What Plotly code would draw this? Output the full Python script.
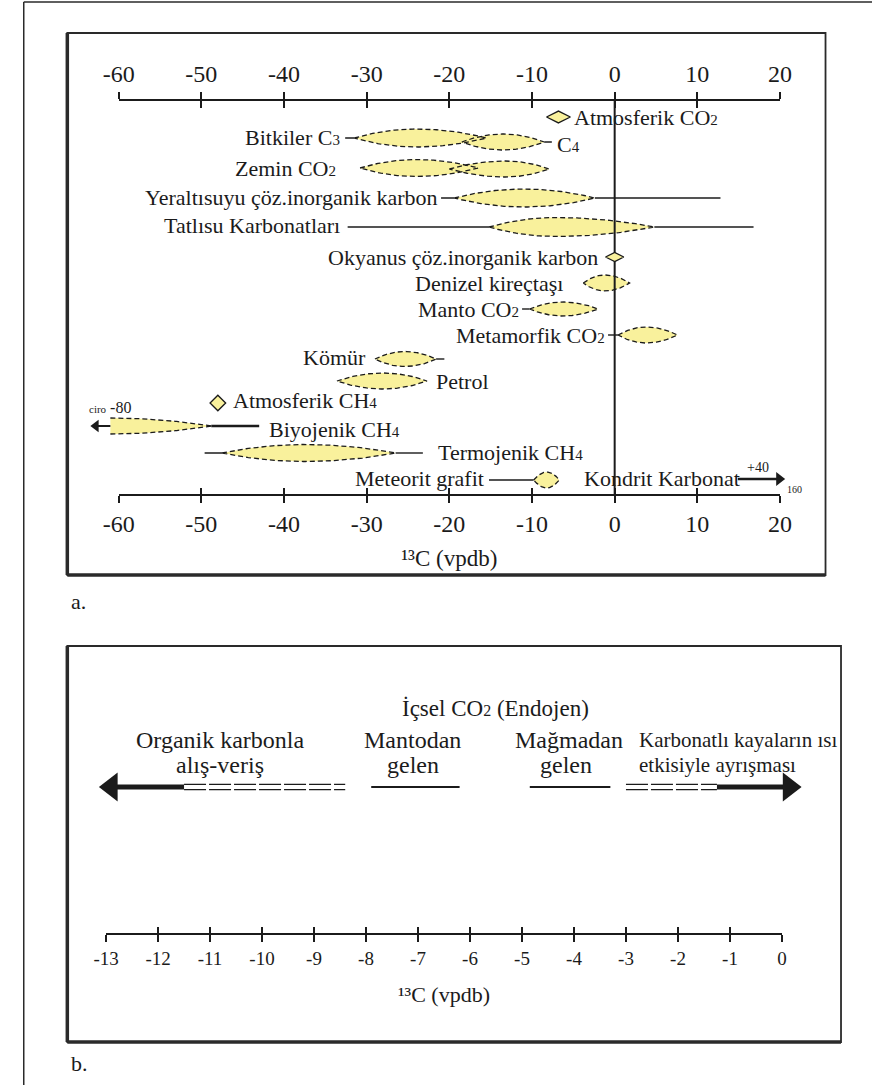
import numpy as np
import plotly.graph_objects as go

W, H = 884, 1085
SERIF = "Liberation Serif"
INK = "#1b1b1b"
YELLOW = "#F9F19C"


def sub(s, size=15):
    """Small trailing index (CO2, CH4 ...) kept on the baseline."""
    return f'<span style="font-size:{size}px">{s}</span>'


# ---------------- panel a : δ13C ranges of carbon reservoirs ----------------
a_ticks = [-60, -50, -40, -30, -20, -10, 0, 10, 20]

lens_key = ["c3", "c4", "soil_c3", "soil_c4", "groundwater", "freshwater",
            "marine", "mantle", "metamorphic", "coal", "oil", "biogenic",
            "thermogenic", "graphite"]
lens_low = [-31.5, -18.5, -30.8, -20.0, -19.4, -15.2, -3.8, -10.3, 0.4,
            -29.0, -33.6, -61.0, -47.5, -9.8]
lens_high = [-15.5, -8.5, -16.5, -7.9, -2.4, 4.8, 1.8, -2.0, 7.6,
             -21.6, -22.7, -48.8, -26.5, -6.7]
lens_mode = [-24.0, -13.5, -24.0, -13.2, -11.0, -7.2, -1.2, -6.3, 3.8,
             -25.4, -28.0, -61.0, -37.5, -8.2]

tail_key = ["c3", "c4", "groundwater", "groundwater", "freshwater", "freshwater",
            "mantle", "metamorphic", "coal", "thermogenic", "thermogenic", "graphite"]
tail_from = [-32.6, -8.5, -21.0, -2.4, -32.3, 4.8, -11.2, -0.8, -21.6, -49.6, -26.5, -15.2]
tail_to = [-31.5, -7.6, -19.4, 12.8, -15.2, 16.8, -10.3, 0.4, -20.6, -47.5, -23.2, -9.8]

biogenic_tail = [-48.8, -43.0]

point_key = ["atm_co2", "ocean", "atm_ch4"]
point_val = [-6.8, 0.0, -48.0]

arrow_key = ["biogenic", "chondrite"]
arrow_tail = [-61.0, 14.9]
arrow_tip = [-63.4, 20.6]

a_label_text = ["Atmosferik CO" + sub(2), "Bitkiler C" + sub(3), "C" + sub(4),
                "Zemin CO" + sub(2), "Yeraltısuyu çöz.inorganik karbon",
                "Tatlısu Karbonatları", "Okyanus çöz.inorganik karbon",
                "Denizel kireçtaşı", "Manto CO" + sub(2), "Metamorfik CO" + sub(2),
                "Kömür", "Petrol", "Atmosferik CH" + sub(4), "Biyojenik CH" + sub(4),
                "Termojenik CH" + sub(4), "Meteorit grafit", "Kondrit Karbonat"]
a_label_x = [-5.2, -33.0, -7.2, -33.5, -21.2, -33.0, -1.8, -6.0, -11.3, -0.9,
             -29.8, -21.8, -46.4, -42.0, -21.6, -15.6, -3.9]
a_label_y = [117, 137, 144, 168, 197, 225, 257, 283, 309, 335,
             357, 381, 400, 429, 452, 478, 478]
a_label_side = ["left", "right", "left", "right", "right", "right", "right", "right",
                "right", "right", "right", "left", "left", "left", "left", "right", "left"]

a_note_text = [sub("ciro", 11) + " -80", "+40", "160"]
a_note_x = [-61.0, 17.3, 21.8]
a_note_y = [407, 467, 489]
a_note_size = [16, 14, 10]

axis_title = "¹³C (vpdb)"

# ---------------- panel b : endogenic CO2 ----------------
b_ticks = list(range(-13, 1))
b_organic_arrow = [-11.5, -13.13]      # tail, tip
b_organic_double = [-11.5, -8.4]
b_mantle = [-7.9, -6.2]
b_magma = [-4.85, -3.3]
b_carbonate_double = [-3.0, -1.25]
b_carbonate_arrow = [-1.25, 0.37]      # tail, tip

b_label_text = ["İçsel CO" + sub(2, 16) + " (Endojen)", "Organik karbonla", "alış-veriş",
                "Mantodan", "gelen", "Mağmadan", "gelen",
                "Karbonatlı kayaların ısı", "etkisiyle ayrışması"]
b_label_x = [-5.5, -10.8, -10.8, -7.1, -7.1, -4.1, -4.15, -2.78, -2.78]
b_label_y = [708, 740, 765, 740, 765, 740, 765, 740, 765]
b_label_side = ["center", "center", "center", "center", "center", "center", "center",
                "left", "left"]
b_label_size = [23, 24, 24, 24, 24, 24, 24, 21, 21]

# ---------------- geometry (pixels) ----------------
A_LEFT, A_RIGHT, A_TOP, A_BOTTOM = 53, 836, 33, 575
A_X0, A_X1 = 106, 789           # where the first / last tick sit
A_AXIS_TOP, A_AXIS_BOTTOM = 100, 495
B_LEFT, B_RIGHT, B_TOP, B_BOTTOM = 53, 852, 646, 1042
B_X0, B_X1 = 93, 791
B_AXIS = 934
B_PATH_Y = 787
DOUBLE_GAP = 2.6

ROW_Y = {"atm_co2": 117, "c3": 138, "c4": 142, "soil_c3": 168, "soil_c4": 169,
         "groundwater": 198, "freshwater": 227, "ocean": 257, "marine": 283,
         "mantle": 309, "metamorphic": 335, "coal": 359, "oil": 381,
         "atm_ch4": 403, "biogenic": 426, "thermogenic": 453, "graphite": 480,
         "chondrite": 479}
HALF = {"c3": 9, "c4": 8, "soil_c3": 8.5, "soil_c4": 8, "groundwater": 9,
        "freshwater": 9.5, "marine": 8, "mantle": 7, "metamorphic": 8,
        "coal": 7.5, "oil": 8, "biogenic": 8, "thermogenic": 8.5, "graphite": 8}
MARKER = {"atm_co2": ("diamond-wide", 17), "ocean": ("diamond-wide", 13),
          "atm_ch4": ("diamond", 12)}
ARROW_STYLE = {"biogenic": (11, 2.2), "chondrite": (12, 2.4)}   # head size, shaft width


def px(x):
    return x / W


def py(y):
    return 1 - y / H


a_ppu = (A_X1 - A_X0) / (a_ticks[-1] - a_ticks[0])
a_range = [a_ticks[0] - (A_X0 - A_LEFT) / a_ppu, a_ticks[-1] + (A_RIGHT - A_X1) / a_ppu]
b_ppu = (B_X1 - B_X0) / (b_ticks[-1] - b_ticks[0])
b_range = [b_ticks[0] - (B_X0 - B_LEFT) / b_ppu, b_ticks[-1] + (B_RIGHT - B_X1) / b_ppu]

nohover = dict(hoverinfo="skip", showlegend=False)


def lens(lo, hi, mode, yc, half, n=80):
    """Spindle-shaped envelope with pointed ends and its widest point at `mode`."""
    xs = np.linspace(lo, hi, n)
    f = np.ones(n)
    left = xs < mode
    if mode > lo:
        u = (xs[left] - lo) / (mode - lo)
        f[left] = 1 - (1 - u) ** 2
    right = xs > mode
    u = (hi - xs[right]) / (hi - mode)
    f[right] = 1 - (1 - u) ** 2
    return xs, yc - half * f, yc + half * f


def arrow(tail, tip, y, xa, ya, ppu, head, width):
    """Shaft plus a filled triangular head whose point lands on `tip`."""
    direction = 1 if tip > tail else -1
    centre = tip - direction * (head / 2) / ppu
    sym = "triangle-right" if direction > 0 else "triangle-left"
    return [
        go.Scatter(x=[tail, centre], y=[y, y], mode="lines",
                   line=dict(color=INK, width=width), xaxis=xa, yaxis=ya, **nohover),
        go.Scatter(x=[centre], y=[y], mode="markers",
                   marker=dict(symbol=sym, size=head, color=INK, line=dict(width=0)),
                   xaxis=xa, yaxis=ya, **nohover),
    ]


fig = go.Figure()

# yellow envelopes
outlines = []
for k, lo, hi, mo in zip(lens_key, lens_low, lens_high, lens_mode):
    xs, top, bot = lens(lo, hi, mo, ROW_Y[k], HALF[k])
    fig.add_trace(go.Scatter(x=np.concatenate([xs, xs[::-1]]),
                             y=np.concatenate([top, bot[::-1]]),
                             fill="toself", fillcolor=YELLOW, mode="lines",
                             line=dict(width=0), xaxis="x", yaxis="y", **nohover))
    if mo == lo:   # open-ended wedge: no outline on the cut edge
        ox = list(xs) + [None] + list(xs)
        oy = list(top) + [None] + list(bot)
    else:
        ox = list(xs) + list(xs[::-1]) + [xs[0]]
        oy = list(top) + list(bot[::-1]) + [top[0]]
    outlines.append((ox, oy))

for ox, oy in outlines:
    fig.add_trace(go.Scatter(x=ox, y=oy, mode="lines",
                             line=dict(color=INK, width=1.3, dash="5px,3px"),
                             xaxis="x", yaxis="y", **nohover))

# solid whiskers
tx, ty = [], []
for k, a, b in zip(tail_key, tail_from, tail_to):
    tx += [a, b, None]
    ty += [ROW_Y[k], ROW_Y[k], None]
fig.add_trace(go.Scatter(x=tx, y=ty, mode="lines", line=dict(color=INK, width=1.4),
                         xaxis="x", yaxis="y", **nohover))
fig.add_trace(go.Scatter(x=biogenic_tail, y=[ROW_Y["biogenic"]] * 2, mode="lines",
                         line=dict(color=INK, width=2.4), xaxis="x", yaxis="y", **nohover))

# zero reference line
fig.add_trace(go.Scatter(x=[0, 0], y=[A_AXIS_TOP, A_AXIS_BOTTOM], mode="lines",
                         line=dict(color=INK, width=2), xaxis="x", yaxis="y", **nohover))

# single-value reservoirs
for k, v in zip(point_key, point_val):
    sym, size = MARKER[k]
    fig.add_trace(go.Scatter(x=[v], y=[ROW_Y[k]], mode="markers",
                             marker=dict(symbol=sym, size=size, color=YELLOW,
                                         line=dict(color=INK, width=1.3)),
                             xaxis="x", yaxis="y", **nohover))

# values beyond the scale
for k, t0, t1 in zip(arrow_key, arrow_tail, arrow_tip):
    head, width = ARROW_STYLE[k]
    fig.add_traces(arrow(t0, t1, ROW_Y[k], "x", "y", a_ppu, head, width))

annotations = []
for t, x, y, side in zip(a_label_text, a_label_x, a_label_y, a_label_side):
    annotations.append(dict(x=x, y=y, xref="x", yref="y", text=t, showarrow=False,
                            xanchor=side, yanchor="middle",
                            font=dict(family=SERIF, size=22, color=INK)))
for t, x, y, s in zip(a_note_text, a_note_x, a_note_y, a_note_size):
    annotations.append(dict(x=x, y=y, xref="x", yref="y", text=t, showarrow=False,
                            xanchor="center", yanchor="middle",
                            font=dict(family=SERIF, size=s, color=INK)))


# ---------------- panel b marks ----------------
def double_line(seg):
    return go.Scatter(x=[seg[0], seg[1], None, seg[0], seg[1]],
                      y=[B_PATH_Y - DOUBLE_GAP] * 2 + [None] + [B_PATH_Y + DOUBLE_GAP] * 2,
                      mode="lines", line=dict(color=INK, width=1.3, dash="22px,3px"),
                      xaxis="x6", yaxis="y2", **nohover)


fig.add_trace(double_line(b_organic_double))
fig.add_trace(double_line(b_carbonate_double))
for seg in (b_mantle, b_magma):
    fig.add_trace(go.Scatter(x=seg, y=[B_PATH_Y] * 2, mode="lines",
                             line=dict(color=INK, width=2), xaxis="x6", yaxis="y2",
                             **nohover))
for tail, tip in (b_organic_arrow, b_carbonate_arrow):
    fig.add_traces(arrow(tail, tip, B_PATH_Y, "x6", "y2", b_ppu, 25, 5))

for t, x, y, side, s in zip(b_label_text, b_label_x, b_label_y, b_label_side, b_label_size):
    annotations.append(dict(x=x, y=y, xref="x6", yref="y2", text=t, showarrow=False,
                            xanchor=side, yanchor="middle",
                            font=dict(family=SERIF, size=s, color=INK)))

annotations.append(dict(x=px(55), y=py(601), xref="paper", yref="paper", text="a.",
                        showarrow=False, xanchor="left", yanchor="middle",
                        font=dict(family=SERIF, size=22, color=INK)))
annotations.append(dict(x=px(55), y=py(1063), xref="paper", yref="paper", text="b.",
                        showarrow=False, xanchor="left", yanchor="middle",
                        font=dict(family=SERIF, size=22, color=INK)))

# traces that register the scale-bar axes
for xa, ya in (("x2", "y"), ("x3", "y"), ("x4", "y"), ("x5", "y"),
               ("x7", "y2"), ("x8", "y2")):
    fig.add_trace(go.Scatter(x=[None], y=[None], xaxis=xa, yaxis=ya, **nohover))

# ---------------- frames ----------------
frame = dict(color="#2a2a2a")
shapes = [
    dict(type="line", xref="paper", yref="paper", x0=px(8), x1=px(8), y0=py(2), y1=0,
         line=dict(width=1.5, **frame)),
    dict(type="line", xref="paper", yref="paper", x0=px(8), x1=1, y0=py(2), y1=py(2),
         line=dict(width=1.5, **frame)),
]
for l, r, t, b in ((A_LEFT, A_RIGHT, A_TOP, A_BOTTOM), (B_LEFT, B_RIGHT, B_TOP, B_BOTTOM)):
    shapes.append(dict(type="rect", xref="paper", yref="paper", x0=px(l), x1=px(r),
                       y0=py(b), y1=py(t), line=dict(width=1.8, **frame)))
    shapes.append(dict(type="line", xref="paper", yref="paper", x0=px(l), x1=px(l),
                       y0=py(b), y1=py(t), line=dict(width=3.5, **frame)))
    shapes.append(dict(type="line", xref="paper", yref="paper", x0=px(l), x1=px(r),
                       y0=py(b), y1=py(b), line=dict(width=3.5, **frame)))


# ---------------- axes ----------------
def scale_axis(ticks, x0, x1, ypix, side, tick_dir, labels, font_size,
               title=None, title_size=None, standoff=6):
    ax = dict(domain=[px(x0), px(x1)], range=[ticks[0], ticks[-1]], anchor="free",
              position=py(ypix), side=side, tickmode="array", tickvals=ticks,
              ticktext=[str(t) for t in ticks], ticks=tick_dir, ticklen=7, tickwidth=2.4,
              tickcolor=INK, showgrid=False, zeroline=False, fixedrange=True,
              showticklabels=labels, showline=labels, linecolor=INK, linewidth=2,
              tickfont=dict(family=SERIF, size=font_size, color=INK))
    if title:
        ax["title"] = dict(text=title, standoff=standoff,
                           font=dict(family=SERIF, size=title_size or font_size, color=INK))
    return ax


fig.update_layout(
    width=W, height=H, margin=dict(l=0, r=0, t=0, b=0),
    paper_bgcolor="white", plot_bgcolor="rgba(0,0,0,0)", showlegend=False,
    xaxis=dict(domain=[px(A_LEFT), px(A_RIGHT)], range=a_range, visible=False,
               anchor="y", fixedrange=True),
    yaxis=dict(domain=[py(A_BOTTOM), py(A_TOP)], range=[A_BOTTOM, A_TOP], visible=False,
               anchor="x", fixedrange=True),
    xaxis2=scale_axis(a_ticks, A_X0, A_X1, A_AXIS_TOP, "top", "outside", True, 24),
    xaxis3=scale_axis(a_ticks, A_X0, A_X1, A_AXIS_TOP, "top", "inside", False, 24),
    xaxis4=scale_axis(a_ticks, A_X0, A_X1, A_AXIS_BOTTOM, "bottom", "outside", True, 24,
                      axis_title, 23, 13),
    xaxis5=scale_axis(a_ticks, A_X0, A_X1, A_AXIS_BOTTOM, "bottom", "inside", False, 24),
    xaxis6=dict(domain=[px(B_LEFT), px(B_RIGHT)], range=b_range, visible=False,
                anchor="y2", fixedrange=True),
    yaxis2=dict(domain=[py(B_BOTTOM), py(B_TOP)], range=[B_BOTTOM, B_TOP], visible=False,
                anchor="x6", fixedrange=True),
    xaxis7=scale_axis(b_ticks, B_X0, B_X1, B_AXIS, "bottom", "outside", True, 19,
                      axis_title, 22, 18),
    xaxis8=scale_axis(b_ticks, B_X0, B_X1, B_AXIS, "bottom", "inside", False, 19),
    shapes=shapes,
    annotations=annotations,
)

fig.write_html("out.html")
